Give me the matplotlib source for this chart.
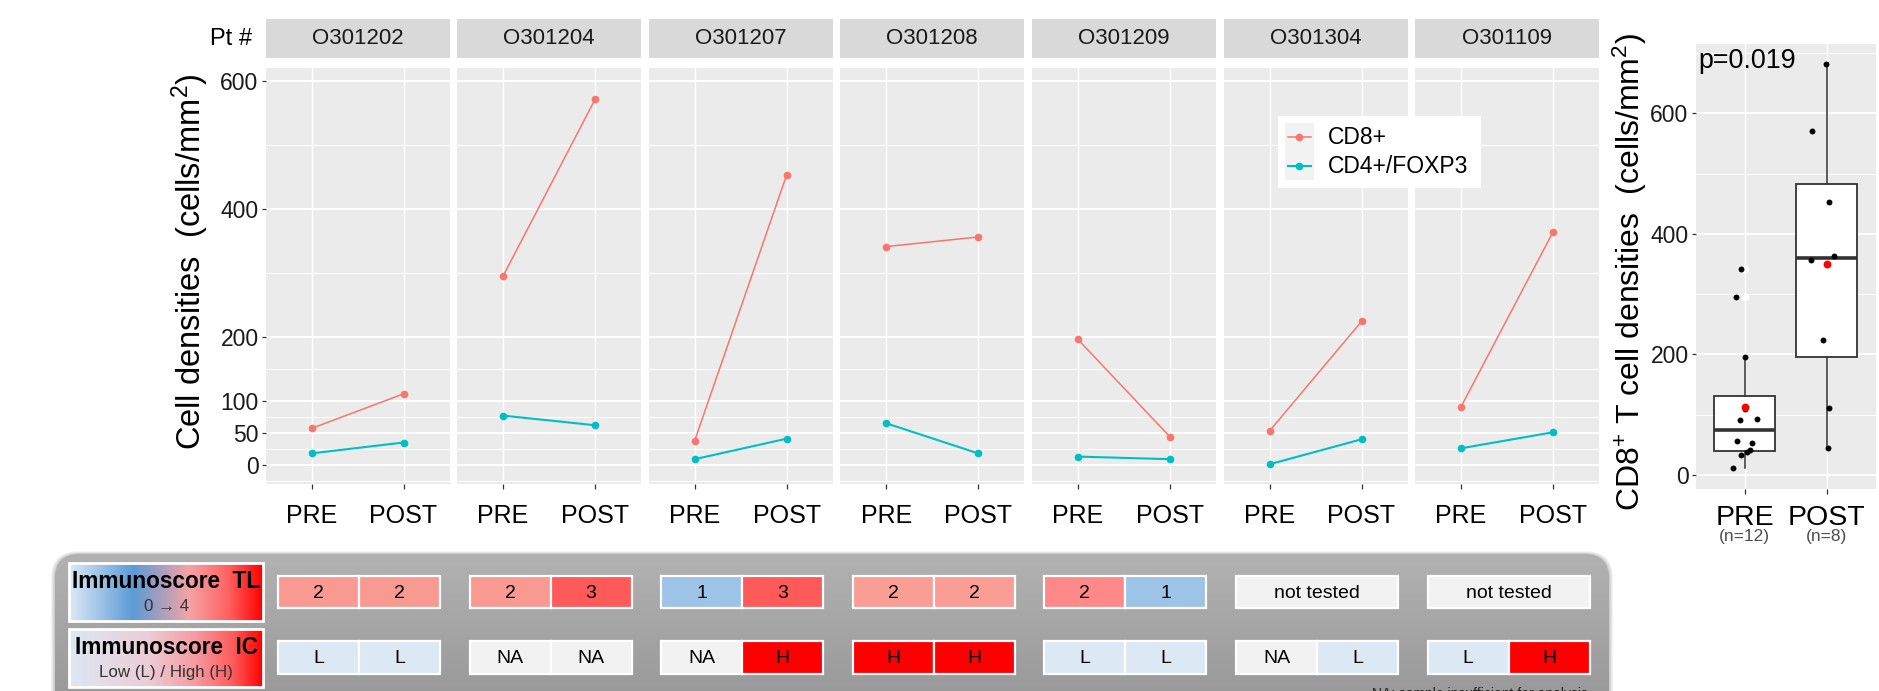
import numpy as np
import matplotlib
matplotlib.use("Agg")
import matplotlib.pyplot as plt
from matplotlib.patches import Rectangle, FancyBboxPatch
from matplotlib.colors import LinearSegmentedColormap

plt.rcParams['font.family'] = ['Liberation Sans', 'DejaVu Sans']
plt.rcParams['mathtext.fontset'] = 'custom'
plt.rcParams['mathtext.rm'] = 'Liberation Sans'
plt.rcParams['mathtext.it'] = 'Liberation Sans:italic'
plt.rcParams['mathtext.bf'] = 'Liberation Sans:bold'

# ---------------- data ----------------
patients = ["O301202", "O301204", "O301207", "O301208", "O301209", "O301304", "O301109"]
timepoints = ["PRE", "POST"]
cd8_pre = [57, 295, 38, 341, 196, 53, 91]
cd8_post = [111, 571, 453, 356, 44, 224, 364]
treg_pre = [18, 77, 9, 65, 13, 1, 26]
treg_post = [35, 62, 41, 18, 9, 40, 51]
# CD8+ densities of the remaining patients (pooled boxplot only)
extra_pre = [93, 110, 41, 33, 11]
extra_post = [682]
p_value_label = "p=0.019"

series_names = ["CD8+", "CD4+/FOXP3"]
y_major = [0, 50, 100, 200, 400, 600]
y_minor = [-25, 25, 75, 150, 300, 500]
box_major = [0, 200, 400, 600]
box_minor = [100, 300, 500, 700]

tl_scores = [["2", "2"], ["2", "3"], ["1", "3"], ["2", "2"], ["2", "1"],
             ["not tested"], ["not tested"]]
ic_scores = [["L", "L"], ["NA", "NA"], ["NA", "H"], ["H", "H"], ["L", "L"],
             ["NA", "L"], ["L", "H"]]

# ---------------- style ----------------
C_CD8 = "#F8766D"
C_TREG = "#00BFC4"
PANEL_BG = "#ebebeb"
STRIP_BG = "#d9d9d9"
tl_fill = [["#f89a92", "#f89a92"], ["#f89a92", "#ff5a5a"], ["#9dc3e6", "#ff5a5a"],
           ["#f99d95", "#f99d95"], ["#ff8888", "#9dc3e6"], ["#f2f2f2"], ["#f2f2f2"]]
ic_color = {"L": "#dde8f5", "H": "#ff0000", "NA": "#f2f2f2"}
# jitter offsets (x units) for the pooled boxplot points
jit_pre = [-0.09, -0.10, 0.03, -0.05, 0.0, 0.09, -0.06, 0.15, 0.0, 0.07, -0.045, -0.145]
jit_post = [0.03, -0.18, 0.03, -0.19, 0.015, -0.04, 0.085, -0.01]

W, H = 1879, 691
fig = plt.figure(figsize=(W / 100, H / 100), dpi=100)
fig.patch.set_facecolor("white")


def rect(x0, y0, x1, y1):
    return [x0 / W, 1 - y1 / H, (x1 - x0) / W, (y1 - y0) / H]


def style_grid(ax):
    ax.set_facecolor(PANEL_BG)
    for s in ax.spines.values():
        s.set_visible(False)
    ax.set_axisbelow(True)
    ax.grid(which="major", axis="y", color="white", lw=1.4)
    ax.grid(which="minor", axis="y", color="white", lw=0.7)
    ax.grid(which="major", axis="x", color="white", lw=1.0)


# ---------------- paired panels ----------------
P_LEFT, P_STEP, P_W = 265.5, 191.6, 184
P_TOP, P_BOT = 68.3, 483.5
for i, pt in enumerate(patients):
    x0 = P_LEFT + i * P_STEP
    ax = fig.add_axes(rect(x0, P_TOP, x0 + P_W, P_BOT))
    style_grid(ax)
    ax.set_xlim(0.5, 2.5)
    ax.set_ylim(-29, 619.4)
    ax.set_yticks(y_major)
    ax.set_yticks(y_minor, minor=True)
    ax.set_xticks([1, 2])
    ax.set_xticklabels(timepoints)
    ax.tick_params(axis="y", which="minor", length=0)
    ax.tick_params(axis="x", length=3.5, width=0.9, color="#333333",
                   labelsize=18, pad=11, labelcolor="black")
    if i == 0:
        ax.tick_params(axis="y", which="major", length=3, width=0.9, color="#333333",
                       labelsize=16.5, pad=2, labelcolor="#1a1a1a")
    else:
        ax.tick_params(axis="y", which="major", left=False, labelleft=False)
    ax.plot([1, 2], [cd8_pre[i], cd8_post[i]], color=C_CD8, lw=1.1,
            marker="o", ms=4.5, zorder=3)
    ax.plot([1, 2], [treg_pre[i], treg_post[i]], color=C_TREG, lw=1.5,
            marker="o", ms=4.5, zorder=3)

    sax = fig.add_axes(rect(x0, 19, x0 + P_W, 58.3))
    sax.set_facecolor(STRIP_BG)
    sax.set_xticks([])
    sax.set_yticks([])
    for s in sax.spines.values():
        s.set_visible(False)
    sax.text(0.5, 0.5, pt, ha="center", va="center", fontsize=16,
             color="#1a1a1a", transform=sax.transAxes)

fig.text(252 / W, 1 - 39 / H, "Pt #", ha="right", va="center", fontsize=17)
fig.text(190 / W, 1 - 262 / H, r"Cell densities  (cells/mm$^{2}$)", rotation=90,
         ha="center", va="center", fontsize=23.5)

# ---------------- pooled boxplot ----------------
pre_all = cd8_pre + extra_pre
post_all = cd8_post + extra_post
bax = fig.add_axes(rect(1695.5, 43.5, 1875.7, 488.6))
style_grid(bax)
bax.set_xlim(0.4, 2.6)
bax.set_ylim(-22.6, 715.8)
bax.set_yticks(box_major)
bax.set_yticks(box_minor, minor=True)
bax.tick_params(axis="y", which="minor", length=0)
bax.tick_params(axis="y", which="major", length=3, width=0.9, color="#333333",
                labelsize=16.5, pad=2, labelcolor="#1a1a1a")
bax.boxplot([pre_all, post_all], positions=[1, 2], widths=0.75, whis=1.5,
            patch_artist=True, showcaps=False,
            boxprops=dict(facecolor="white", edgecolor="#333333", lw=1.3),
            medianprops=dict(color="#333333", lw=2.6),
            whiskerprops=dict(color="#333333", lw=1.1),
            flierprops=dict(marker="o", markerfacecolor="white",
                            markeredgecolor="white", markersize=4.5))
bax.set_xticks([1, 2])
bax.set_xticklabels(timepoints)
bax.tick_params(axis="x", length=3.5, width=0.9, color="#333333",
                labelsize=20.5, pad=8.5, labelcolor="black")
bax.scatter(1 + np.array(jit_pre), pre_all, s=18, color="black", zorder=4, lw=0)
bax.scatter(2 + np.array(jit_post), post_all, s=18, color="black", zorder=4, lw=0)
bax.scatter([1, 2], [np.mean(pre_all), np.mean(post_all)], s=32, color="#ff0000",
            zorder=5, lw=0)
fig.text(1698 / W, 1 - 68 / H, p_value_label, ha="left", va="baseline", fontsize=19.4)
for xpos, grp in zip([1, 2], [pre_all, post_all]):
    xf = bax.transData.transform((xpos, 0))[0] / W
    fig.text(xf, 1 - 537 / H, f"(n={len(grp)})", ha="center", va="center",
             fontsize=12.5, color="#4d4d4d")
fig.text(1630 / W, 1 - 272 / H, r"CD8$^{+}$ T cell densities  (cells/mm$^{2}$)",
         rotation=90, ha="center", va="center", fontsize=23)

# ---------------- overlay: legend and immunoscore table ----------------
ov = fig.add_axes([0, 0, 1, 1], zorder=10)
ov.set_xlim(0, W)
ov.set_ylim(H, 0)
ov.axis("off")

# legend
ov.add_patch(Rectangle((1278, 116), 203, 72, facecolor="white", edgecolor="none"))
ov.add_patch(Rectangle((1285, 123), 29, 57, facecolor="#f2f2f2", edgecolor="none"))
for yy, col, name, lw in [(137, C_CD8, series_names[0], 1.1), (166, C_TREG, series_names[1], 1.5)]:
    ov.plot([1288, 1311], [yy, yy], color=col, lw=lw)
    ov.plot([1299.5], [yy], "o", color=col, ms=4.5)
    ov.text(1328, yy, name, ha="left", va="center", fontsize=16.5)

# grey rounded background with soft shadow
BX0, BY0, BX1, BY1 = 55, 554, 1609, 760
for k in range(1, 6):
    ov.add_patch(FancyBboxPatch((BX0 - k * 0.8, BY0 - k * 0.5), BX1 - BX0 + k * 1.6, BY1 - BY0,
                                boxstyle="round,pad=0,rounding_size=26",
                                facecolor="black", edgecolor="none", alpha=0.045, zorder=0.5))
panel = FancyBboxPatch((BX0, BY0), BX1 - BX0, BY1 - BY0,
                       boxstyle="round,pad=0,rounding_size=24",
                       facecolor="none", edgecolor="none", zorder=1)
ov.add_patch(panel)
grad = np.linspace(0, 1, 256).reshape(-1, 1)
cm_panel = LinearSegmentedColormap.from_list("pan", ["#b2b2b2", "#8e8e8e"])
im = ov.imshow(grad, cmap=cm_panel, extent=(BX0, BX1, BY1, BY0), origin="upper",
               aspect="auto", zorder=1)
im.set_clip_path(panel)

# gradient keys
tl_cmap = LinearSegmentedColormap.from_list(
    "tl", [(0, "#dde9f6"), (0.33, "#5b9bd5"), (0.62, "#f5a3a5"), (0.82, "#ff6363"), (1, "#ff0000")])
ic_cmap = LinearSegmentedColormap.from_list(
    "ic", [(0, "#dde8f4"), (0.4, "#ebcdd6"), (0.65, "#f59ca2"), (0.85, "#ff5a5a"), (1, "#ff0000")])
hgrad = np.linspace(0, 1, 256).reshape(1, -1)
KX0, KX1 = 69.3, 263.3
for (y0, y1), cmap, title, sub in [((563.3, 621), tl_cmap, "Immunoscore  TL", "0 → 4"),
                                   ((629, 686.7), ic_cmap, "Immunoscore  IC", "Low (L) / High (H)")]:
    ov.imshow(hgrad, cmap=cmap, extent=(KX0, KX1, y1, y0), origin="upper",
              aspect="auto", zorder=2)
    ov.add_patch(Rectangle((KX0, y0), KX1 - KX0, y1 - y0, fill=False,
                           edgecolor="white", lw=2, zorder=3))
    ov.text((KX0 + KX1) / 2, y0 + 18, title, ha="center", va="center",
            fontsize=16.3, fontweight="bold", zorder=4)
    ov.text((KX0 + KX1) / 2, y0 + 43, sub, ha="center", va="center",
            fontsize=12.2, color="#333333", zorder=4)

# score cells
G_W = 162
rows = [(575.7, 608.3), (640.7, 674)]
for i in range(len(patients)):
    cx = 359 + i * P_STEP
    for r, (labels, fills) in enumerate([(tl_scores[i], tl_fill[i]),
                                         (ic_scores[i], [ic_color[v] for v in ic_scores[i]])]):
        y0, y1 = rows[r]
        n = len(labels)
        cw = G_W / n
        for j, (lab, fc) in enumerate(zip(labels, fills)):
            xl = cx - G_W / 2 + j * cw
            ov.add_patch(Rectangle((xl, y0), cw, y1 - y0, facecolor=fc,
                                   edgecolor="white", lw=1.6, zorder=3))
            ov.text(xl + cw / 2, (y0 + y1) / 2 + 1, lab, ha="center", va="center",
                    fontsize=14, color="black", zorder=4)

ov.text(1372, 687, "NA: sample insufficient for analysis", ha="left", va="top",
        fontsize=10, color="#222222", zorder=4)

fig.savefig("out.png", dpi=100, facecolor="white")
